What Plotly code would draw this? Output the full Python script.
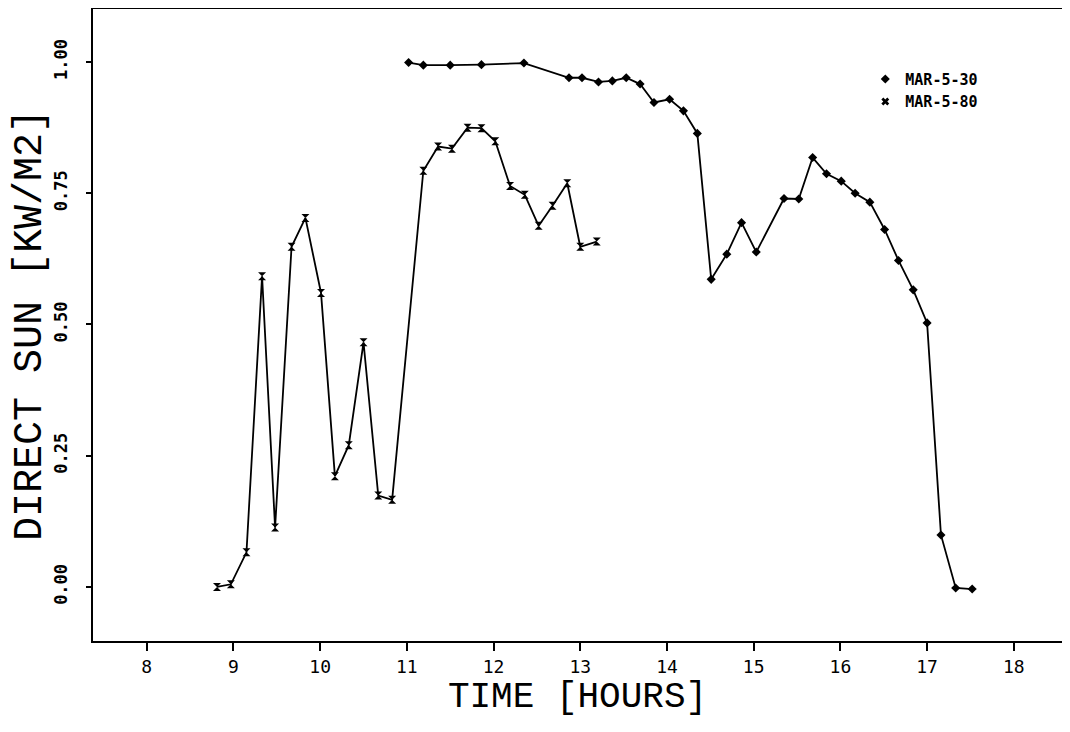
import plotly.graph_objects as go

# MAR-5-80 (morning series, x-style markers)
hours_80 = [8.81, 8.97, 9.15, 9.33, 9.48, 9.67, 9.83, 10.01, 10.17, 10.33, 10.50,
            10.67, 10.83, 11.19, 11.36, 11.52, 11.70, 11.86, 12.02, 12.19, 12.36,
            12.52, 12.68, 12.85, 13.00, 13.19]
sun_80 = [0.00, 0.005, 0.066, 0.592, 0.113, 0.648, 0.703, 0.560, 0.211, 0.270, 0.466,
          0.174, 0.166, 0.793, 0.839, 0.835, 0.875, 0.874, 0.849, 0.764, 0.747,
          0.688, 0.726, 0.769, 0.648, 0.658]

# MAR-5-30 (afternoon series, diamond markers)
hours_30 = [11.02, 11.19, 11.50, 11.86, 12.35, 12.87, 13.02, 13.21, 13.37, 13.53,
            13.69, 13.85, 14.03, 14.19, 14.35, 14.51, 14.69, 14.86, 15.03, 15.35,
            15.52, 15.68, 15.84, 16.01, 16.17, 16.34, 16.51, 16.67, 16.84, 17.00,
            17.16, 17.33, 17.52]
sun_30 = [0.999, 0.994, 0.994, 0.995, 0.998, 0.970, 0.970, 0.962, 0.964, 0.970,
          0.958, 0.923, 0.929, 0.907, 0.864, 0.586, 0.634, 0.694, 0.638, 0.740,
          0.739, 0.818, 0.787, 0.773, 0.750, 0.733, 0.681, 0.622, 0.566, 0.503,
          0.099, -0.002, -0.004]

series_names = ["MAR-5-30", "MAR-5-80"]
x_ticks = [8, 9, 10, 11, 12, 13, 14, 15, 16, 17, 18]
y_ticks = [0.0, 0.25, 0.5, 0.75, 1.0]

FONT = "DejaVu Sans Mono"
THIN = "Liberation Mono"

fig = go.Figure()
fig.add_trace(go.Scatter(
    x=hours_80, y=sun_80, mode="lines+markers", showlegend=False,
    line=dict(color="black", width=1.8),
    marker=dict(symbol="hourglass", size=8, color="black"),
))
fig.add_trace(go.Scatter(
    x=hours_30, y=sun_30, mode="lines+markers", showlegend=False,
    line=dict(color="black", width=1.8),
    marker=dict(symbol="diamond", size=7, color="black"),
))
# legend-only entries (markers only)
fig.add_trace(go.Scatter(x=[None], y=[None], mode="markers", name=series_names[0],
                         marker=dict(symbol="diamond", size=7, color="black")))
fig.add_trace(go.Scatter(x=[None], y=[None], mode="markers", name=series_names[1],
                         marker=dict(symbol="x", size=7, color="black")))

fig.update_layout(
    width=1054, height=716,
    margin=dict(l=85, r=0, t=1, b=83),
    paper_bgcolor="white", plot_bgcolor="white",
    font=dict(family=FONT, color="black"),
    legend=dict(x=0.797, y=0.915, xanchor="left", yanchor="top",
                font=dict(family=FONT, size=15, color="black", weight="bold"),
                bgcolor="rgba(0,0,0,0)", tracegroupgap=0, itemwidth=30),
)
fig.update_xaxes(
    range=[7.38, 18.556], tickvals=x_ticks, ticktext=[str(t) for t in x_ticks],
    showgrid=False, zeroline=False, automargin=False,
    showline=True, linecolor="black", linewidth=2, mirror="ticks",
    ticks="outside", ticklen=8, tickwidth=1.5, tickcolor="black",
    tickfont=dict(family=FONT, size=18, color="black"),
    title=dict(text="TIME [HOURS]", font=dict(family=THIN, size=36, color="black"), standoff=0),
)
fig.update_yaxes(
    range=[-0.103, 1.101], tickvals=y_ticks, ticktext=["%.2f" % v for v in y_ticks],
    tickangle=-90, ticklabelstandoff=12,
    showgrid=False, zeroline=False, automargin=False,
    showline=True, linecolor="black", linewidth=2, mirror=False,
    ticks="outside", ticklen=5, tickwidth=1.5, tickcolor="black",
    tickfont=dict(family=FONT, size=17, color="black", weight="bold"),
    title=dict(text="DIRECT SUN [KW/M2]", font=dict(family=THIN, size=40, color="black"), standoff=4),
)

fig.write_html("out.html")
